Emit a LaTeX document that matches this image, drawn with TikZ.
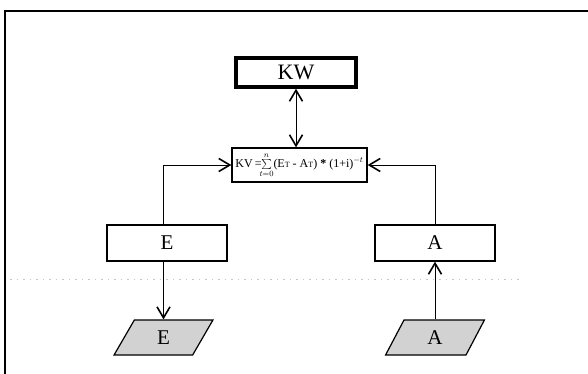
\documentclass[tikz,border=0pt]{standalone}
\usepackage{fontspec}
\setmainfont{Liberation Serif}
\usetikzlibrary{arrows.meta,shapes.geometric}
\tikzset{
  box/.style={draw, line width=1.3pt, minimum width=120pt, minimum height=36pt, inner sep=0pt, font=\fontsize{21}{21}\selectfont},
  kwbox/.style={draw, line width=3.4pt, minimum width=120pt, minimum height=29pt, inner sep=0pt, font=\fontsize{22}{22}\selectfont},
  fbox/.style={draw, line width=1.3pt, minimum width=135pt, minimum height=34pt, inner sep=0pt, font=\fontsize{12}{13}\selectfont},
  datapar/.style={draw, line width=1.2pt, fill=gray!35, trapezium, trapezium left angle=72, trapezium right angle=108, trapezium stretches=true, minimum width=99pt, minimum height=35pt, inner sep=0pt, font=\fontsize{21}{21}\selectfont},
  conn/.style={line width=0.9pt},
  barb/.tip={Straight Barb[length=11pt,width=13pt,line width=1.6pt]},
  tip/.style={-barb},
  frameline/.style={line width=1.8pt}
}
\begin{document}
\begin{tikzpicture}[x=1pt,y=-1pt]
\useasboundingbox (0,0) rectangle (588,374);
% frame
\coordinate (fr1) at (588,11);
\coordinate (fr2) at (5,11);
\coordinate (fr3) at (5,374);
\draw[frameline] (fr1) -- (fr2) -- (fr3);
% faint scan line
\coordinate (d1) at (10,279);
\coordinate (d2) at (520,279);
\draw[gray!45, line width=0.6pt, dash pattern=on 1.5pt off 5pt] (d1) -- (d2);
% nodes
\node[kwbox] (KW) at (296,72.5) {KW};
\node[fbox] (F) at (299.5,165) {KV\,=\!$\sum\limits_{t=0}^{n}$(E{\fontsize{8}{8}\selectfont T} - A{\fontsize{8}{8}\selectfont T})\ \textbf{*}\ (1+i)$^{-t}$};
\node[box] (E) at (167,243) {E};
\node[box] (A) at (435,243) {A};
\node[datapar] (Ep) at (163.5,337.5) {E};
\node[datapar] (Ap) at (435,337.5) {A};
% connectors
\draw[conn,barb-barb] (KW.south) -- (F.north -| KW.south);
\draw[conn,tip] (E.north -| Ep.north) |- (F.west);
\draw[conn,tip] (A.north -| Ap.north) |- (F.east);
\draw[conn,tip] (E.south -| Ep.north) -- (Ep.north);
\draw[conn,tip] (Ap.north) -- (A.south -| Ap.north);
\end{tikzpicture}
\end{document}
